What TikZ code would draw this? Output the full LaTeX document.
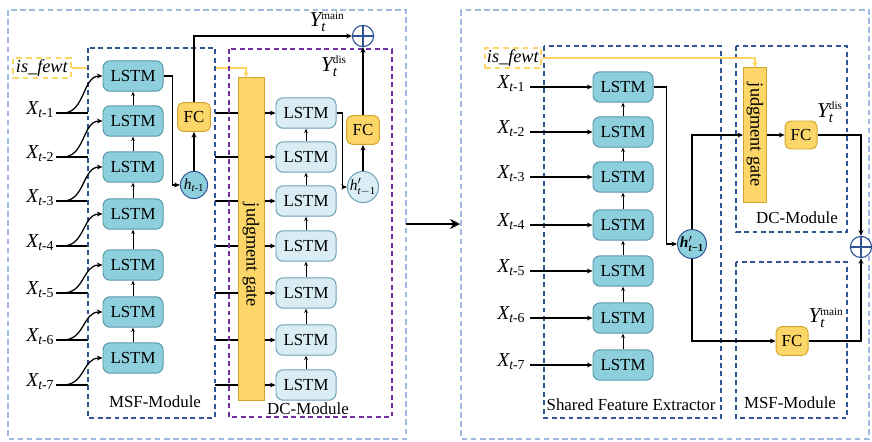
\documentclass[tikz,border=0pt]{standalone}
\usepackage{amsmath}
\usepackage{graphicx}
\usepackage{fontspec}
\setmainfont{Liberation Serif}
\usetikzlibrary{arrows.meta}

\definecolor{lstmfill}{RGB}{141,207,220}
\definecolor{lstmdraw}{RGB}{88,152,168}
\definecolor{lightfill}{RGB}{218,237,245}
\definecolor{lightdraw}{RGB}{108,160,180}
\definecolor{gatefill}{RGB}{253,214,105}
\definecolor{gatedraw}{RGB}{210,165,45}
\definecolor{darkblue}{RGB}{47,85,151}
\definecolor{paleblue}{RGB}{160,186,228}
\definecolor{modpurple}{RGB}{112,48,160}
\definecolor{yline}{RGB}{255,214,100}

\begin{document}
\begin{tikzpicture}[x=0.025cm, y=-0.025cm, >={Stealth[length=4pt,width=3.5pt]},
    txt/.style={font=\fontsize{12}{14}\selectfont},
    xlab/.style={font=\fontsize{14}{16}\selectfont, inner sep=1pt},
    ylab/.style={font=\fontsize{15}{16}\selectfont, inner sep=0pt},
    lstm/.style={txt, draw=lstmdraw, fill=lstmfill, rounded corners=5pt, line width=0.7pt,
        minimum width=1.5cm, minimum height=0.76cm, inner sep=0pt},
    lstmlight/.style={lstm, draw=lightdraw, fill=lightfill},
    fcbox/.style={txt, draw=gatedraw, fill=gatefill, rounded corners=4pt, line width=0.7pt,
        minimum width=0.82cm, minimum height=0.72cm, inner sep=0pt},
    gatebox/.style={draw=gatedraw, fill=gatefill, line width=0.7pt, inner sep=0pt},
    hnode/.style={circle, draw=darkblue, fill=lstmfill, line width=0.7pt, minimum size=0.68cm,
        inner sep=0pt, font=\fontsize{11}{12}\selectfont},
    hdis/.style={hnode, draw=lightdraw, fill=lightfill},
    oplus/.style={circle, draw=darkblue, fill=white, line width=0.8pt, minimum size=0.53cm, inner sep=0pt},
    fewbox/.style={draw=yline, line width=1.4pt, dash pattern=on 4pt off 3pt, inner sep=1pt,
        minimum width=1.45cm, minimum height=0.52cm, font=\fontsize{13}{14}\selectfont},
    conn/.style={line width=0.9pt},
    thinarr/.style={line width=0.6pt, ->, >={Stealth[length=3pt,width=2.6pt]}},
    yarrow/.style={draw=yline, line width=1.2pt, ->, >={Stealth[length=4pt,width=4pt]}},
    outerbox/.style={draw=paleblue, line width=0.9pt, dash pattern=on 4pt off 2.5pt},
    modbox/.style={draw=darkblue, line width=0.8pt, dash pattern=on 3.5pt off 2.5pt},
    dcbox/.style={draw=modpurple, line width=0.8pt, dash pattern=on 3.5pt off 2.5pt}]

    \useasboundingbox (0,0) rectangle (872,441);

    % Draw the outer frames
    \draw[outerbox] (8,10) rectangle (406,439);
    \draw[outerbox] (461,10) rectangle (869,439);

    %%% left panel
    % judgment gate
    \node[gatebox, minimum width=0.65cm, minimum height=8.05cm] (gate) at (251,239) {};
    \node[txt, font=\fontsize{13}{14}\selectfont, rotate=-90] (gatetext) at (251,255) {judgment gate};

    % inputs running to the gate
    \foreach \i/\yy in {1/113,2/157,3/201,4/246,5/293,6/340,7/385}{
        \coordinate (xa\i) at (56,\yy);
        \node[xlab, anchor=east] (xl\i) at (56,\yy-3) {$\mathit{X}_{\mathit{t}\text{-\i}}$};
        \draw[conn] (xa\i) -- (gate.west |- xa\i);
    }

    % is_fewt flag
    \node[fewbox] (few) at (42,68) {\textit{is\_fewt}};
    \draw[yarrow] (few.east) -| ([xshift=-3.5pt]gate.north);

    % modules
    \draw[modbox, fill=white] (88,48) rectangle (215,418);
    \draw[dcbox] (229,49) rectangle (392,417);
    \node[txt] (msflab) at (155,402) {MSF-Module};
    \node[txt] (dclab) at (308,409) {DC-Module};

    % LSTM columns
    \foreach \i/\yy/\ly in {1/113/76,2/157/121,3/201/167,4/246/214,5/293/265,6/340/312,7/385/358}{
        \node[lstm] (m\i) at (133,\ly) {LSTM};
        \coordinate (xc\i) at (63,\yy);
        \draw[conn,->] (xc\i) .. controls +(22,0) and +(-20,0) .. (m\i.west);
        \node[lstmlight] (d\i) at (306,\yy) {LSTM};
        \draw[conn,->] (gate.east |- d\i) -- (d\i.west);
    }
    \foreach \i/\j in {1/2,2/3,3/4,4/5,5/6,6/7}{
        \draw[thinarr] (m\j.north) -- (m\i.south);
        \draw[thinarr] (d\j.north) -- (d\i.south);
    }

    % hidden states, FC and sum
    \node[hnode] (h) at (194,185) {$\mathit{h}_{\mathit{t}\text{-1}}$};
    \node[fcbox] (fc1) at (194,117) {FC};
    \node[hdis] (hd) at (363,187) {$\mathit{h}'_{\mathit{t}-\mathrm{1}}$};
    \node[fcbox] (fc2) at (363,130) {FC};
    \node[oplus] (sum1) at (363,36) {};
    \draw[line width=0.8pt, darkblue] (sum1.north) -- (sum1.south) (sum1.west) -- (sum1.east);

    \draw[conn,->] (m1.east) -- ++(9,0) |- (h.west);
    \draw[conn,->] (h) -- (fc1);
    \draw[conn,->] (fc1.north) |- (sum1.west);
    \draw[conn,->] (d1.east) -- ++(6,0) |- (hd.west);
    \draw[conn,->] (hd) -- (fc2);
    \draw[conn,->] (fc2) -- (sum1);

    \node[ylab] (ymain) at (327,22) {$\mathit{Y}_{\mathit{t}}^{\text{\fontsize{8}{9}\selectfont main}}$};
    \node[ylab] (ydis) at (334,66) {$\mathit{Y}_{\mathit{t}}^{\text{\fontsize{8}{9}\selectfont dis}}$};

    % Draw the arrow between panels
    \coordinate (pl) at (406,224);
    \coordinate (pr) at (460,224);
    \draw[line width=1.3pt, -{Stealth[length=7pt,width=7pt]}] (pl) -- (pr);

    %%% right panel
    \draw[modbox] (544,46) rectangle (721,418);
    \draw[modbox] (736,46) rectangle (847,232);
    \draw[modbox] (736,262) rectangle (847,418);
    \node[txt] (sfelab) at (631,405) {Shared Feature Extractor};
    \node[txt] (dclab2) at (797,218) {DC-Module};
    \node[txt] (msflab2) at (790,403) {MSF-Module};

    \foreach \i/\yy in {1/87,2/132,3/177,4/225,5/271,6/318,7/365}{
        \node[lstm] (r\i) at (623,\yy) {LSTM};
        \coordinate (ra\i) at (530,\yy);
        \node[xlab, anchor=east] (xr\i) at (527,\yy-3) {$\mathit{X}_{\mathit{t}\text{-\i}}$};
        \draw[conn,->] (ra\i) -- (r\i.west);
    }
    \foreach \i/\j in {1/2,2/3,3/4,4/5,5/6,6/7}{
        \draw[thinarr] (r\j.north) -- (r\i.south);
    }

    \node[fewbox, minimum width=1.4cm, minimum height=0.5cm] (few2) at (513,58) {\textit{is\_fewt}};
    \node[gatebox, minimum width=0.575cm, minimum height=3.35cm] (gate2) at (755,135) {};
    \node[txt, font=\fontsize{13}{14}\selectfont, rotate=-90] (gatetext2) at (755,135) {judgment gate};
    \draw[yarrow] (few2.east) -| (gate2.north);

    \node[hnode] (hr) at (692,244) {\textbf{\textit{h}}$'_{\textbf{\textit{t}}\textbf{−1}}$};
    \node[fcbox, minimum width=0.8cm, minimum height=0.7cm] (fc3) at (801,135) {FC};
    \node[fcbox, minimum width=0.8cm, minimum height=0.72cm] (fc4) at (792,341) {FC};
    \node[oplus] (sum2) at (861,247) {};
    \draw[line width=0.8pt, darkblue] (sum2.north) -- (sum2.south) (sum2.west) -- (sum2.east);

    \draw[conn,->] (r1.east) -- ++(13,0) |- (hr.west);
    \draw[conn,->] (hr.north) |- (gate2.west);
    \draw[conn,->] (hr.south) |- (fc4.west);
    \draw[conn,->] (gate2) -- (fc3);
    \draw[conn,->] (fc3.east) -| (sum2.north);
    \draw[conn,->] (fc4.east) -| (sum2.south);

    \node[ylab] (ydis2) at (830,112) {$\mathit{Y}_{\mathit{t}}^{\text{\fontsize{8}{9}\selectfont dis}}$};
    \node[ylab] (ymain2) at (826,318) {$\mathit{Y}_{\mathit{t}}^{\text{\fontsize{8}{9}\selectfont main}}$};
\end{tikzpicture}
\end{document}
